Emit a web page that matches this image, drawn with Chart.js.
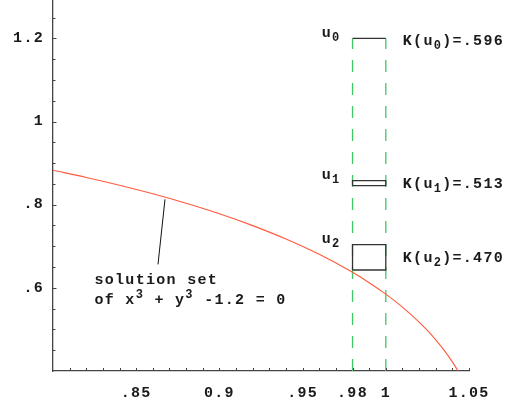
<!DOCTYPE html>
<html><head><meta charset="utf-8">
<script src="https://cdn.jsdelivr.net/npm/chart.js@4.4.1/dist/chart.umd.min.js"></script>
<style>html,body{margin:0;padding:0;background:#fff;}</style>
</head><body>
<canvas id="c" width="516" height="407" style="width:516px;height:407px;display:block"></canvas>
<script>
// ---- data ----
const curveX = [0.80, 0.82, 0.84, 0.86, 0.88, 0.90, 0.92, 0.94, 0.96, 0.98, 0.99, 1.00, 1.01, 1.02, 1.025, 1.03, 1.035, 1.04, 1.0434];
const curveY = [0.8828, 0.8656, 0.8468, 0.8262, 0.8034, 0.7781, 0.7497, 0.7175, 0.6806, 0.6373, 0.6124, 0.5848, 0.5536, 0.5178, 0.4975, 0.4751, 0.4503, 0.4219, 0.4001];
const boxX = [0.98, 1.0];
const boxLow = [1.2, 0.846, 0.643];
const boxHigh = [1.2, 0.858, 0.704];
const boxNames = ['0', '1', '2'];
const kValues = ['.596', '.513', '.470'];
const guideX = [0.98, 1.0];
const guideY = [0.4, 1.2];
const leaderX = [0.8673, 0.8631];
const leaderY = [0.813, 0.6564];
const noteLine1 = 'solution set';
const noteLine2 = [['of x'], ['3', 'sup'], [' + y'], ['3', 'sup'], [' -1.2 = 0']];
const noteAnchor = [0.8249, 0.6085];
const xTickValues = [0.85, 0.9, 0.95, 0.98, 1, 1.05];
const xTickLabels = ['.85', '0.9', '.95', '.98', '1', '1.05'];
const yTickValues = [0.6, 0.8, 1, 1.2];
const yTickLabels = ['.6', '.8', '1', '1.2'];

const FONT = '"Liberation Mono", "DejaVu Sans Mono", monospace';
const TXT = '#1a1a1a';
const AXIS = '#444';

const datasets = [];
// boxes
boxLow.forEach((lo, i) => {
  const hi = boxHigh[i];
  datasets.push({
    data: [{x: boxX[0], y: lo}, {x: boxX[1], y: lo}, {x: boxX[1], y: hi}, {x: boxX[0], y: hi}, {x: boxX[0], y: lo}],
    borderColor: '#333', borderWidth: 1.3, pointRadius: 0, tension: 0, fill: false
  });
});
// leader line
datasets.push({
  data: leaderX.map((x, i) => ({x, y: leaderY[i]})),
  borderColor: '#111', borderWidth: 1, pointRadius: 0, tension: 0, fill: false
});
// curve
datasets.push({
  data: curveX.map((x, i) => ({x, y: curveY[i]})),
  borderColor: '#ff5a3c', borderWidth: 1.1, pointRadius: 0, cubicInterpolationMode: 'monotone', fill: false
});
// green dashed guides
guideX.forEach(gx => {
  datasets.push({
    data: guideY.map(y => ({x: gx, y})),
    borderColor: '#3fc864', borderWidth: 1.3, borderDash: [12, 11], pointRadius: 0, tension: 0, fill: false
  });
});

function drawRich(ctx, x, y, parts, align) {
  const main = 'bold 15px ' + FONT, small = 'bold 12px ' + FONT;
  let w = 0;
  const items = parts.map(p => {
    ctx.font = p[1] ? small : main;
    const it = {t: p[0], k: p[1], w: ctx.measureText(p[0]).width};
    w += it.w; return it;
  });
  let cx = align === 'right' ? x - w : x;
  items.forEach(p => {
    ctx.font = p.k ? small : main;
    const dy = p.k === 'sub' ? 4 : (p.k === 'sup' ? -6 : 0);
    ctx.fillText(p.t, cx, y + dy);
    cx += p.w;
  });
}

const decor = {
  id: 'decor',
  beforeDraw(chart) { chart.ctx.letterSpacing = '1.3px'; },
  afterDraw(chart) {
    const ctx = chart.ctx;
    const xs = chart.scales.x, ys = chart.scales.y;
    const ca = chart.chartArea;
    ctx.save();
    // inward tick marks
    ctx.strokeStyle = AXIS; ctx.lineWidth = 1;
    ctx.beginPath();
    for (let k = 81; k <= 105; k++) {
      const px = Math.round(xs.getPixelForValue(k / 100)) + 0.5;
      ctx.moveTo(px, ca.bottom); ctx.lineTo(px, ca.bottom - 3);
    }
    for (let k = 9; k <= 25; k++) {
      const v = k / 20;
      const py = Math.round(ys.getPixelForValue(v)) + 0.5;
      const major = yTickValues.some(t => Math.abs(t - v) < 1e-9);
      ctx.moveTo(ca.left, py); ctx.lineTo(ca.left + (major ? 3.5 : 2.5), py);
    }
    ctx.stroke();
    // text annotations
    ctx.fillStyle = TXT;
    ctx.letterSpacing = '1.3px';
    ctx.textBaseline = 'alphabetic';
    ctx.textAlign = 'left';
    const left = xs.getPixelForValue(boxX[0]);
    const right = xs.getPixelForValue(boxX[1]);
    boxLow.forEach((lo, i) => {
      const top = ys.getPixelForValue(boxHigh[i]);
      const bot = ys.getPixelForValue(lo);
      const mid = (top + bot) / 2;
      drawRich(ctx, left - 12, top - 1.5, [['u'], [boxNames[i], 'sub']], 'right');
      drawRich(ctx, right + 17, mid + (i === 0 ? 7 : 5), [['K(u'], [boxNames[i], 'sub'], [')=' + kValues[i]]], 'left');
    });
    const nx = xs.getPixelForValue(noteAnchor[0]);
    const ny = ys.getPixelForValue(noteAnchor[1]);
    drawRich(ctx, nx, ny, [[noteLine1]], 'left');
    drawRich(ctx, nx, ny + 19.5, noteLine2, 'left');
    ctx.restore();
  }
};

new Chart(document.getElementById('c'), {
  type: 'line',
  data: { datasets },
  options: {
    responsive: false, animation: false, devicePixelRatio: 1,
    layout: { padding: { top: 1, right: 47, bottom: 0, left: 0 } },
    plugins: { legend: { display: false }, tooltip: { enabled: false } },
    scales: {
      x: {
        type: 'linear', min: 0.8, max: 1.05,
        afterBuildTicks: s => { s.ticks = xTickValues.map(v => ({value: v})); },
        afterFit: s => { s.height = 36; s.paddingLeft = 0; s.paddingRight = 0; },
        grid: { display: false, drawTicks: false, tickLength: 0 },
        border: { display: true, color: AXIS, width: 1.3 },
        ticks: {
          autoSkip: false, maxRotation: 0, padding: 13, color: TXT,
          font: { family: FONT, size: 15, weight: 'bold' },
          callback: (v, i) => xTickLabels[i]
        }
      },
      y: {
        type: 'linear', min: 0.4, max: 1.29,
        afterBuildTicks: s => { s.ticks = yTickValues.map(v => ({value: v})); },
        afterFit: s => { s.width = 53; s.paddingTop = 0; s.paddingBottom = 0; },
        grid: { display: false, drawTicks: false, tickLength: 0 },
        border: { display: true, color: AXIS, width: 1.3 },
        ticks: {
          autoSkip: false, padding: 9, color: TXT,
          font: { family: FONT, size: 15, weight: 'bold' },
          callback: (v, i) => yTickLabels[i]
        }
      }
    }
  },
  plugins: [decor]
});
</script>
</body></html>
